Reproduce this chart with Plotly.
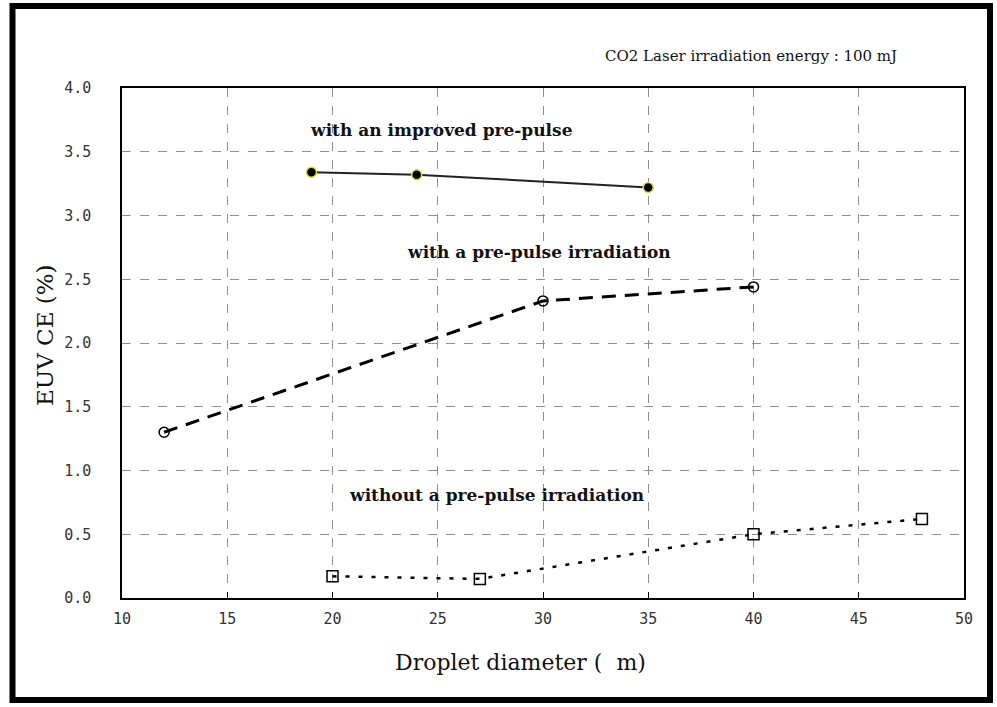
import plotly.graph_objects as go

# Droplet diameter (um) vs EUV conversion efficiency (%)
improved_x = [19, 24, 35]
improved_y = [3.34, 3.32, 3.22]

prepulse_x = [12, 30, 40]
prepulse_y = [1.30, 2.33, 2.44]

without_x = [20, 27, 40, 48]
without_y = [0.17, 0.15, 0.50, 0.62]

x_ticks = [10, 15, 20, 25, 30, 35, 40, 45, 50]
y_ticks = [0.0, 0.5, 1.0, 1.5, 2.0, 2.5, 3.0, 3.5, 4.0]

W, H = 997, 707
L, R, T, B = 122, 33, 88, 109
pw, ph = W - L - R, H - T - B


def px(x):
    return (x - L) / pw


def py(y):
    return (H - B - y) / ph


fig = go.Figure()

fig.add_trace(go.Scatter(
    x=improved_x, y=improved_y, mode="lines+markers",
    line=dict(color="#222222", width=2),
    marker=dict(symbol="circle", size=10, color="black",
                line=dict(color="#d8e040", width=1.5)),
    showlegend=False,
))

fig.add_trace(go.Scatter(
    x=prepulse_x, y=prepulse_y, mode="lines+markers",
    line=dict(color="black", width=3, dash="14px,9px"),
    marker=dict(symbol="circle-open", size=10, color="black", line=dict(width=1.5)),
    showlegend=False,
))

fig.add_trace(go.Scatter(
    x=without_x, y=without_y, mode="lines+markers",
    line=dict(color="black", width=2.5, dash="4px,9px"),
    marker=dict(symbol="square-open", size=11, color="black", line=dict(width=1.5)),
    showlegend=False,
))

label_font = dict(family="DejaVu Serif", size=17, color="#111111")
for txt, x, y in [
    ("<b>with an improved pre-pulse</b>", 25.2, 3.67),
    ("<b>with a pre-pulse irradiation</b>", 29.8, 2.71),
    ("<b>without a pre-pulse irradiation</b>", 27.8, 0.81),
]:
    fig.add_annotation(x=x, y=y, text=txt, showarrow=False, font=label_font,
                       xanchor="center", yanchor="middle")

fig.add_annotation(
    xref="paper", yref="paper", x=px(751), y=py(56),
    xanchor="center", yanchor="middle",
    text="CO2 Laser irradiation energy : 100 mJ", showarrow=False,
    font=dict(family="DejaVu Serif", size=15, color="#111111"),
)

# axis titles
title_font = dict(family="DejaVu Serif", size=22, color="#111111")
fig.add_annotation(
    xref="paper", yref="paper", x=px(520), y=py(662),
    xanchor="center", yanchor="middle", showarrow=False,
    text="Droplet diameter (  m)", font=title_font,
)
fig.add_annotation(
    xref="paper", yref="paper", x=px(45), y=py(335),
    xanchor="center", yanchor="middle", showarrow=False, textangle=-90,
    text="EUV CE (%)", font=dict(family="DejaVu Serif", size=23, color="#111111"),
)

# outer frame around the whole figure
fig.add_shape(
    type="rect", xref="paper", yref="paper",
    x0=px(12.5), x1=px(990), y0=py(700), y1=py(6),
    line=dict(color="black", width=6), layer="above",
)

tick_font = dict(family="DejaVu Sans Mono", size=15, color="#333333")
fig.update_xaxes(
    range=[10, 50], tickvals=x_ticks, ticktext=[str(v) for v in x_ticks],
    showgrid=True, gridcolor="#8f8f8f", griddash="dash", gridwidth=1,
    showline=True, linecolor="black", linewidth=1.5, mirror=True,
    ticks="inside", ticklen=6, tickcolor="black", ticklabelstandoff=6,
    tickfont=tick_font, zeroline=False,
)
fig.update_yaxes(
    range=[0, 4], tickvals=y_ticks, ticktext=[f"{v:.1f}" for v in y_ticks],
    showgrid=True, gridcolor="#8f8f8f", griddash="dash", gridwidth=1,
    showline=True, linecolor="black", linewidth=1.5, mirror=True,
    ticks="", tickfont=tick_font, zeroline=False, ticklabelstandoff=26,
)

fig.update_layout(
    width=W, height=H,
    margin=dict(l=L, r=R, t=T, b=B),
    paper_bgcolor="white", plot_bgcolor="white",
)

fig.write_html("out.html")
